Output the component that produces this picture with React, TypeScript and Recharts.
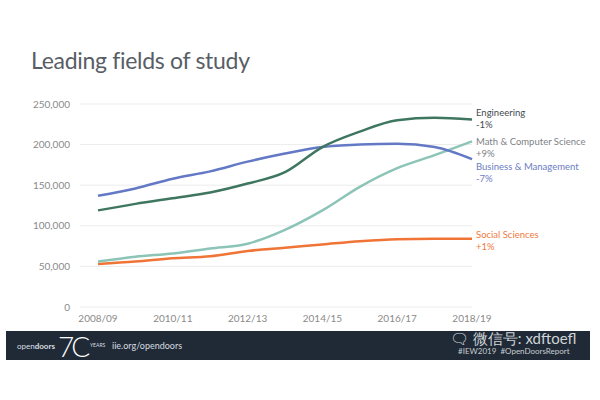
import { LineChart, Line, XAxis, YAxis, CartesianGrid } from 'recharts'

const years = ['2008/09', '2009/10', '2010/11', '2011/12', '2012/13', '2013/14', '2014/15', '2015/16', '2016/17', '2017/18', '2018/19']
const engineering = [119000, 127000, 134000, 141000, 152000, 166000, 197000, 216000, 230000, 233000, 231000]
const mathCs = [56000, 62000, 66000, 72000, 78000, 95000, 119000, 148000, 171000, 187000, 204000]
const business = [137000, 146000, 158000, 167000, 179000, 189000, 197000, 200000, 201000, 197000, 182000]
const social = [53000, 56000, 60000, 62500, 69000, 73000, 77000, 81000, 83500, 84000, 84000]
const yTicks = [0, 50000, 100000, 150000, 200000, 250000]

const data = years.map((y, i) => ({
  year: y,
  engineering: engineering[i],
  mathCs: mathCs[i],
  business: business[i],
  social: social[i],
}))

const font = 'Lato, "Open Sans", sans-serif'
const tickStyle = { fontSize: 10, fontFamily: font, fill: '#8a8a8a' }

const endLabels = [
  { name: 'Engineering', change: '-1%', color: '#444a50', top: 107 },
  { name: 'Math & Computer Science', change: '+9%', color: '#7d8286', top: 136 },
  { name: 'Business & Management', change: '-7%', color: '#6d7dc2', top: 161 },
  { name: 'Social Sciences', change: '+1%', color: '#f07a40', top: 229 },
]

export default function App() {
  return (
    <div style={{ position: 'absolute', left: 0, top: 0, width: 600, height: 400, background: '#fff', fontFamily: font }}>
      <div style={{ position: 'absolute', left: 31, top: 46, fontSize: 23, color: '#585e66', letterSpacing: -0.3 }}>
        Leading fields of study
      </div>
      <LineChart width={600} height={400} data={data} margin={{ top: 104, right: 128, left: 0, bottom: 63 }}>
        <CartesianGrid vertical={false} stroke="#ececec" />
        <XAxis
          dataKey="year"
          interval={1}
          tick={tickStyle}
          axisLine={false}
          tickLine={false}
          padding={{ left: 18, right: 0 }}
          height={30}
        />
        <YAxis
          ticks={yTicks}
          domain={[0, 250000]}
          tick={tickStyle}
          tickFormatter={(v: number) => v.toLocaleString('en-US')}
          axisLine={false}
          tickLine={false}
          tickMargin={4}
          width={80}
        />
        <Line type="monotone" dataKey="social" stroke="#f07436" strokeWidth={2.5} dot={false} isAnimationActive={false} />
        <Line type="monotone" dataKey="mathCs" stroke="#8cc4b8" strokeWidth={2.5} dot={false} isAnimationActive={false} />
        <Line type="monotone" dataKey="business" stroke="#6479c6" strokeWidth={2.5} dot={false} isAnimationActive={false} />
        <Line type="monotone" dataKey="engineering" stroke="#3e7660" strokeWidth={2.5} dot={false} isAnimationActive={false} />
      </LineChart>
      {endLabels.map(l => (
        <div key={l.name} style={{ position: 'absolute', left: 476, top: l.top, fontSize: 9.5, lineHeight: '12px', color: l.color }}>
          <div>{l.name}</div>
          <div>{l.change}</div>
        </div>
      ))}
      <div style={{ position: 'absolute', left: 6, top: 331, width: 584, height: 29, background: '#1f2a36', color: '#fff' }}>
        <span style={{ position: 'absolute', left: 11, top: 10, fontSize: 8, color: '#d8dce0' }}>open<b>doors</b></span>
        <span style={{ position: 'absolute', left: 52, top: -2, fontSize: 28, fontWeight: 300, letterSpacing: -3 }}>7C</span>
        <span style={{ position: 'absolute', left: 84, top: 11, fontSize: 5, color: '#d8dce0' }}>YEARS</span>
        <span style={{ position: 'absolute', left: 106, top: 9, fontSize: 9, color: '#d8dce0' }}>iie.org/opendoors</span>
        <span style={{ position: 'absolute', left: 444, top: -2, fontSize: 15, color: '#d0d4d8' }}>🗨 微信号: xdftoefl</span>
        <span style={{ position: 'absolute', left: 452, top: 15, fontSize: 8, color: '#c8ccd0' }}>#IEW2019 &nbsp;#OpenDoorsReport</span>
      </div>
    </div>
  )
}
